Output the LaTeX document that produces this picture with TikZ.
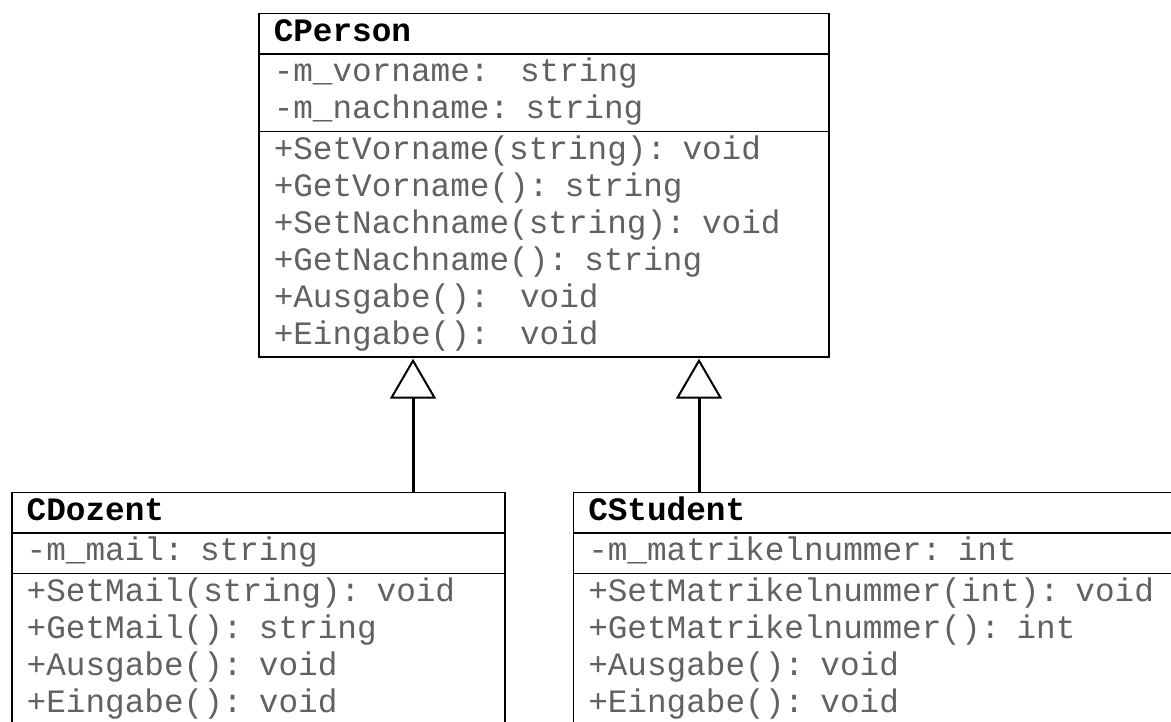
\documentclass[tikz,border=0pt]{standalone}
\usepackage{fontspec}
\setmonofont{Liberation Mono}
\usetikzlibrary{positioning, arrows.meta, shapes.multipart}

\begin{document}
\begin{tikzpicture}[x=1pt,y=-1pt,
	umlclass/.style={rectangle split, rectangle split parts=3, draw, line width=1.5pt,
		inner xsep=15pt, inner ysep=1pt, align=left, text=black!62,
		font=\ttfamily\fontsize{32.7}{37}\selectfont},
	inherit/.style={line width=3pt, shorten >=1pt,
		-{Triangle[open, length=40pt, width=46pt, line width=2pt 0]}}]
	
	\useasboundingbox (0,0) rectangle (1171,722);
	
	%Classes
	\node[umlclass, text width=540pt, anchor=north west] (person) at (258,12.7)
	{\strut\color{black}\bfseries CPerson
		\nodepart{second}\strut-m\_vorname:\phantom{x} string\\-m\_nachname: string\strut
		\nodepart{third}\strut+SetVorname(string): void\\+GetVorname(): string\\
		+SetNachname(string): void\\+GetNachname(): string\\
		+Ausgabe():\phantom{x} void\\+Eingabe():\phantom{x} void\strut};
	\node[umlclass, text width=463pt] (dozent) [below=134pt of person.south west, anchor=north west, xshift=-247pt]
	{\strut\color{black}\bfseries CDozent
		\nodepart{second}\strut-m\_mail: string\strut
		\nodepart{third}\strut+SetMail(string): void\\+GetMail(): string\\
		+Ausgabe(): void\\+Eingabe(): void\strut\rule[-40pt]{0pt}{1pt}};
	\node[umlclass, text width=590pt] (student) [right=67pt of dozent.north east, anchor=north west]
	{\strut\color{black}\bfseries CStudent
		\nodepart{second}\strut-m\_matrikelnummer: int\strut
		\nodepart{third}\strut+SetMatrikelnummer(int): void\\+GetMatrikelnummer(): int\\
		+Ausgabe(): void\\+Eingabe(): void\strut\rule[-40pt]{0pt}{1pt}};
	
	%Inheritance
	\coordinate (baseL) at ([xshift=155pt]person.south west);
	\coordinate (baseR) at ([xshift=441pt]person.south west);
	\draw[inherit] (dozent.north -| baseL) -- (baseL);
	\draw[inherit] (student.north -| baseR) -- (baseR);
	
\end{tikzpicture}
\end{document}
